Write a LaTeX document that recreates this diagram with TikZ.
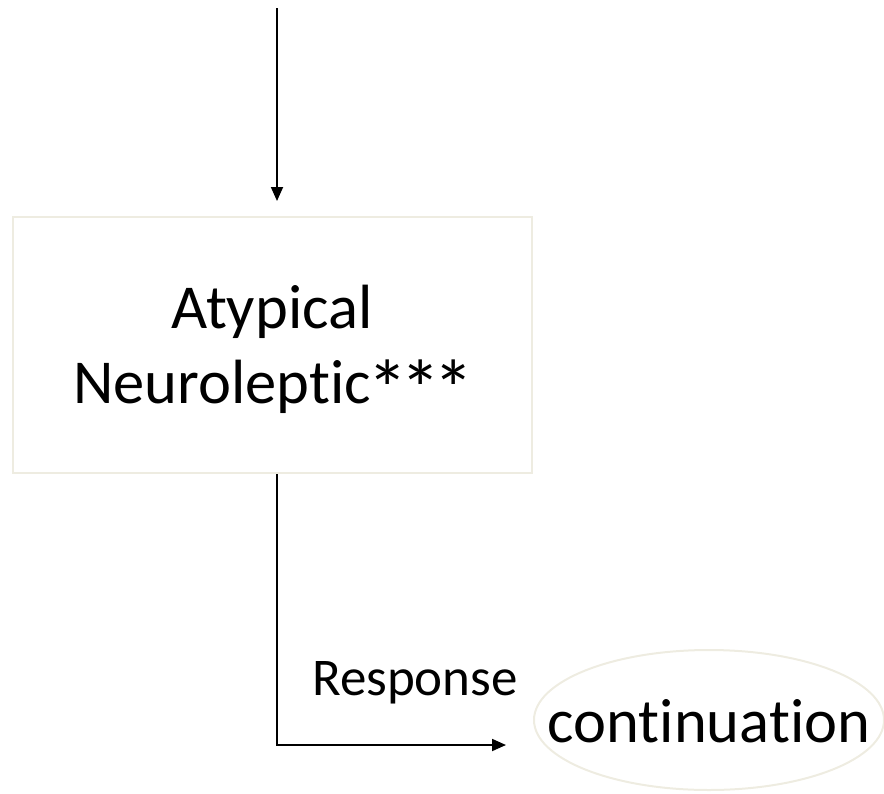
\documentclass[tikz,border=0pt]{standalone}
\usepackage{fontspec}
\usepackage{calc}
\setmainfont{Carlito}[Ligatures={NoCommon}]
\usetikzlibrary{arrows.meta,shapes.geometric}
\definecolor{boxline}{HTML}{EEECE1}
\newcommand{\myast}{\makebox[\widthof{*}+2pt]{\raisebox{-14pt}{\scalebox{1.3}{*}}}}
\tikzset{
  conn/.style={line width=1.8pt, -{Triangle[length=14pt,width=12pt]}},
  stepbox/.style={draw=boxline, line width=2pt, rectangle, minimum width=519pt, minimum height=256pt, inner sep=0pt},
  endell/.style={draw=boxline, line width=2pt, ellipse, minimum width=350pt, minimum height=140pt, inner sep=0pt},
  bigtext/.style={font=\fontsize{62.5}{75}\selectfont},
  lbltext/.style={font=\fontsize{53}{64}\selectfont}
}
\begin{document}
\begin{tikzpicture}[x=1pt,y=-1pt]
\useasboundingbox (0,0) rectangle (884,793);
\node[stepbox] (box) at (272.5,345) {};
\node[bigtext, align=center] (boxtext) at (272,351) {Atypical\\Neuroleptic\myast\myast\myast};
\node[endell] (ell) at (709,720) {};
\node[bigtext, anchor=base] (conttext) at (709,742) {continuation};
\node[lbltext, anchor=base] (resp) at (415,695) {Response};
\coordinate (topstart) at (277,8);
\coordinate (toptip) at (277,201);
\coordinate (bend) at (277,745);
\coordinate (rtip) at (506,745);
\draw[conn] (topstart) -- (toptip);
\draw[conn] (box.south -| bend) -- (bend) -- (rtip);
\end{tikzpicture}
\end{document}
